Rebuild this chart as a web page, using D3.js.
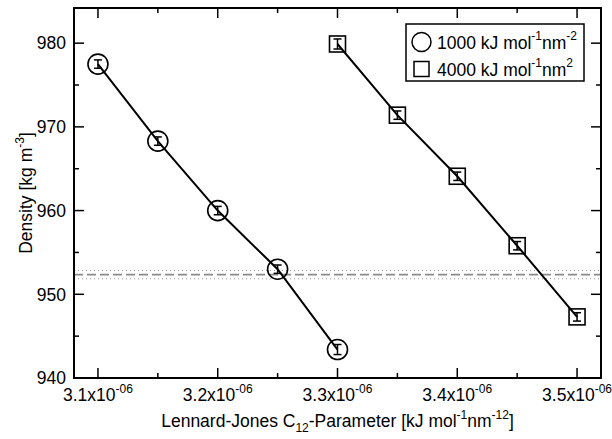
<!DOCTYPE html>
<html>
<head>
<meta charset="utf-8">
<script src="https://cdn.jsdelivr.net/npm/d3@7"></script>
<style>
  html, body { margin: 0; padding: 0; background: #fff; }
  svg text { font-family: "Liberation Sans", Arial, Helvetica, sans-serif; fill: #000; }
</style>
</head>
<body>
<svg id="chart" width="612" height="439"></svg>
<script>
// C12 parameter values (kJ mol^-1 nm^-12) for each restraint strength
const c12Soft = [3.10e-6, 3.15e-6, 3.20e-6, 3.25e-6, 3.30e-6];
const densitySoft = [977.5, 968.3, 960.0, 953.0, 943.4];
const errSoft = [0.5, 0.5, 0.5, 0.5, 0.6];

const c12Stiff = [3.30e-6, 3.35e-6, 3.40e-6, 3.45e-6, 3.50e-6];
const densityStiff = [979.9, 971.4, 964.1, 955.8, 947.3];
const errStiff = [0.6, 0.5, 0.5, 0.5, 0.5];

// experimental reference density and its uncertainty band
const refDensity = 952.35;
const refBand = [951.85, 952.85];

const xTicks = [3.1e-6, 3.2e-6, 3.3e-6, 3.4e-6, 3.5e-6];
const xMinorTicks = [3.15e-6, 3.25e-6, 3.35e-6, 3.45e-6];
const yTicks = [940, 950, 960, 970, 980];
const yMinorTicks = [945, 955, 965, 975];

const legendLabels = [
  { main: "1000 kJ mol", parts: [["-1", "sup"], ["nm", ""], ["-2", "sup"]] },
  { main: "4000 kJ mol", parts: [["-1", "sup"], ["nm", ""], ["2", "sup"]] }
];

const svg = d3.select("#chart");
const m = { left: 74, right: 601, top: 8, bottom: 378 };
const FS = 17.5, SS = 12, SUP = 8.5;   // font size, script size, superscript raise

const x = d3.scaleLinear().domain([3.08e-6, 3.52e-6]).range([m.left, m.right]);
const y = d3.scaleLinear().domain([940, 984.2]).range([m.bottom, m.top]);

function label(parent, tx, ty, anchor, rotate) {
  return parent.append("text")
    .attr("transform", `translate(${tx},${ty})${rotate ? " rotate(" + rotate + ")" : ""}`)
    .attr("text-anchor", anchor).attr("font-size", FS);
}

// reference band lines
const g = svg.append("g");
g.append("line")
  .attr("x1", m.left).attr("x2", m.right)
  .attr("y1", y(refDensity)).attr("y2", y(refDensity))
  .attr("stroke", "#8a8a8a").attr("stroke-width", 1.6).attr("stroke-dasharray", "9,4");
refBand.forEach(v => {
  g.append("line")
    .attr("x1", m.left).attr("x2", m.right)
    .attr("y1", y(v)).attr("y2", y(v))
    .attr("stroke", "#999").attr("stroke-width", 1).attr("stroke-dasharray", "1,3");
});

// frame
svg.append("rect")
  .attr("x", m.left).attr("y", m.top)
  .attr("width", m.right - m.left).attr("height", m.bottom - m.top)
  .attr("fill", "none").attr("stroke", "#000").attr("stroke-width", 2);

// ticks (pointing inward, mirrored on top and right)
const tickG = svg.append("g").attr("stroke", "#000").attr("stroke-width", 1.5);
const major = 10, minor = 5;
xTicks.forEach(v => {
  tickG.append("line").attr("x1", x(v)).attr("x2", x(v)).attr("y1", m.bottom).attr("y2", m.bottom - major);
  tickG.append("line").attr("x1", x(v)).attr("x2", x(v)).attr("y1", m.top).attr("y2", m.top + major);
});
xMinorTicks.forEach(v => {
  tickG.append("line").attr("x1", x(v)).attr("x2", x(v)).attr("y1", m.bottom).attr("y2", m.bottom - minor);
  tickG.append("line").attr("x1", x(v)).attr("x2", x(v)).attr("y1", m.top).attr("y2", m.top + minor);
});
yTicks.forEach(v => {
  tickG.append("line").attr("x1", m.left).attr("x2", m.left + major).attr("y1", y(v)).attr("y2", y(v));
  tickG.append("line").attr("x1", m.right).attr("x2", m.right - major).attr("y1", y(v)).attr("y2", y(v));
});
yMinorTicks.forEach(v => {
  tickG.append("line").attr("x1", m.left).attr("x2", m.left + minor).attr("y1", y(v)).attr("y2", y(v));
  tickG.append("line").attr("x1", m.right).attr("x2", m.right - minor).attr("y1", y(v)).attr("y2", y(v));
});

// tick labels
yTicks.forEach(v => {
  label(svg, m.left - 8, y(v) + 6.3, "end").text(v);
});
xTicks.forEach(v => {
  const t = label(svg, x(v), 401, "middle");
  t.append("tspan").text((v * 1e6).toFixed(1) + "x10");
  t.append("tspan").attr("font-size", SS).attr("dy", -SUP).text("-06");
});

// axis titles
const xt = label(svg, (m.left + m.right) / 2, 427, "middle");
xt.append("tspan").text("Lennard-Jones C");
xt.append("tspan").attr("font-size", SS).attr("dy", 5).text("12");
xt.append("tspan").attr("dy", -5).text("-Parameter [kJ mol");
xt.append("tspan").attr("font-size", SS).attr("dy", -SUP).text("-1");
xt.append("tspan").attr("dy", SUP).text("nm");
xt.append("tspan").attr("font-size", SS).attr("dy", -SUP).text("-12");
xt.append("tspan").attr("dy", SUP).text("]");

const yt = label(svg, 32, (m.top + m.bottom) / 2, "middle", -90);
yt.append("tspan").text("Density [kg m");
yt.append("tspan").attr("font-size", SS).attr("dy", -SUP).text("-3");
yt.append("tspan").attr("dy", SUP).text("]");

// data series
function drawSeries(xs, ys, errs, shape) {
  const pts = xs.map((v, i) => [x(v), y(ys[i]), errs[i], ys[i]]);
  svg.append("path")
    .attr("d", d3.line()(pts.map(p => [p[0], p[1]])))
    .attr("fill", "none").attr("stroke", "#000").attr("stroke-width", 2);
  const eg = svg.append("g").attr("stroke", "#000").attr("stroke-width", 1.5);
  pts.forEach(p => {
    const yt0 = y(p[3] + p[2]), yb0 = y(p[3] - p[2]);
    eg.append("line").attr("x1", p[0]).attr("x2", p[0]).attr("y1", yt0).attr("y2", yb0);
    eg.append("line").attr("x1", p[0] - 4).attr("x2", p[0] + 4).attr("y1", yt0).attr("y2", yt0);
    eg.append("line").attr("x1", p[0] - 4).attr("x2", p[0] + 4).attr("y1", yb0).attr("y2", yb0);
  });
  const mg = svg.append("g").attr("fill", "none").attr("stroke", "#000").attr("stroke-width", 1.6);
  pts.forEach(p => {
    if (shape === "circle") {
      mg.append("circle").attr("cx", p[0]).attr("cy", p[1]).attr("r", 10);
    } else {
      mg.append("rect").attr("x", p[0] - 8).attr("y", p[1] - 8).attr("width", 16).attr("height", 16);
    }
  });
}
drawSeries(c12Soft, densitySoft, errSoft, "circle");
drawSeries(c12Stiff, densityStiff, errStiff, "square");

// legend
const lg = svg.append("g");
lg.append("rect").attr("x", 406).attr("y", 24).attr("width", 178).attr("height", 57)
  .attr("fill", "#fff").attr("stroke", "#000").attr("stroke-width", 1.5);
const rows = [42, 69];
lg.append("circle").attr("cx", 421.5).attr("cy", rows[0]).attr("r", 9.5)
  .attr("fill", "none").attr("stroke", "#000").attr("stroke-width", 1.5);
lg.append("rect").attr("x", 414).attr("y", rows[1] - 7.5).attr("width", 15).attr("height", 15)
  .attr("fill", "none").attr("stroke", "#000").attr("stroke-width", 1.5);
legendLabels.forEach((lab, i) => {
  const t = label(lg, 437, rows[i] + 6.5, "start");
  t.append("tspan").text(lab.main);
  let shifted = false;
  lab.parts.forEach(([s, kind]) => {
    const ts = t.append("tspan").text(s);
    if (kind === "sup") {
      ts.attr("font-size", SS).attr("dy", shifted ? 0 : -SUP);
      shifted = true;
    } else {
      ts.attr("dy", shifted ? SUP : 0);
      shifted = false;
    }
  });
});
</script>
</body>
</html>
